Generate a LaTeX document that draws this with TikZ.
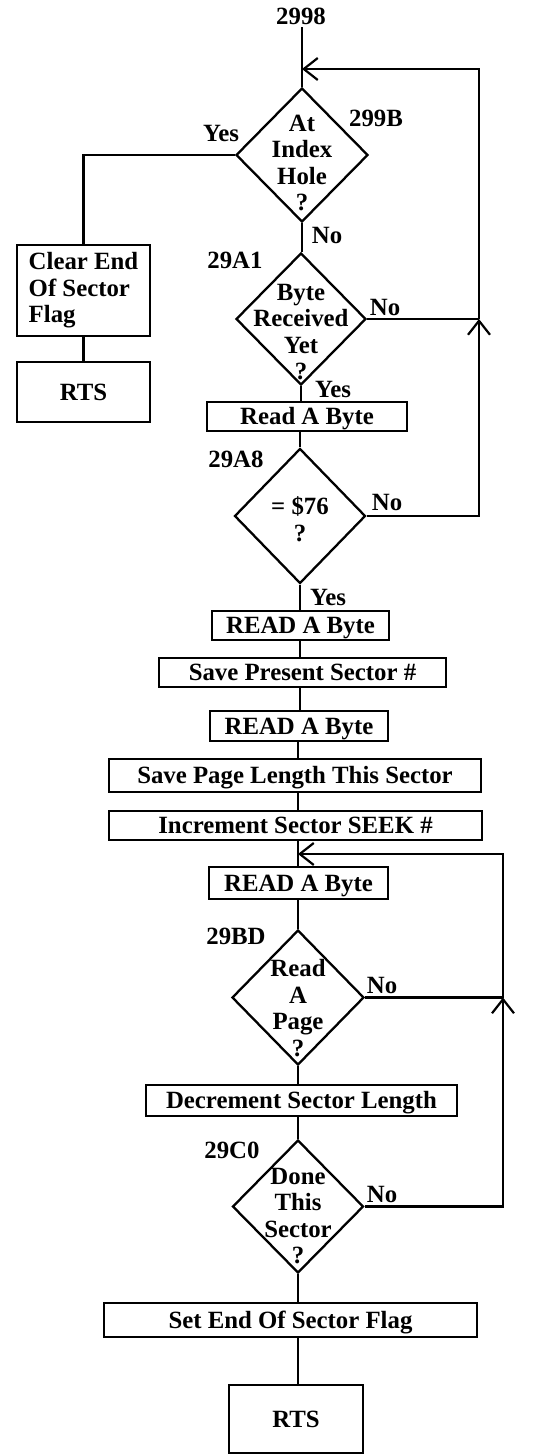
\documentclass[tikz,border=0pt]{standalone}
\usepackage{fontspec}
\setmainfont{Liberation Serif}
\usetikzlibrary{shapes.geometric,arrows.meta}
\newcommand{\fs}{\fontsize{24.8}{26.5}\selectfont\bfseries}
\tikzset{
  lbl/.style={font=\fs, inner sep=0pt, text height=16pt, text depth=0pt},
  box/.style={draw, line width=2pt, inner sep=0pt, font=\fs, text height=16pt, text depth=0pt},
  dia/.style={draw, shape=diamond, line width=2.3pt, inner sep=0pt},
  dtext/.style={font=\fs, align=center, inner sep=0pt},
  conn/.style={line width=2.2pt},
  barb/.style={line width=2.2pt, -{Straight Barb[length=14pt,width=22pt]}}
}
\begin{document}
\begin{tikzpicture}[x=1pt,y=-1pt]
\useasboundingbox (0,0) rectangle (537,1454);

% labels
\node[lbl] (l2998) at (301,16) {2998};
\node[lbl] (l299B) at (376,118) {299B};
\node[lbl] (y1) at (221,133) {Yes};
\node[lbl] (n1) at (327,235) {No};
\node[lbl] (l29A1) at (235,260) {29A1};
\node[lbl] (n2) at (385,307) {No};
\node[lbl] (y2) at (333,389) {Yes};
\node[lbl] (l29A8) at (236,459) {29A8};
\node[lbl] (n3) at (387,502) {No};
\node[lbl] (y3) at (328,597) {Yes};
\node[lbl] (l29BD) at (236,936) {29BD};
\node[lbl] (n4) at (382,985) {No};
\node[lbl] (l29C0) at (232,1150) {29C0};
\node[lbl] (n5) at (382,1194) {No};

% diamonds
\node[dia, minimum width=132pt, minimum height=134pt] (d1) at (302,155) {};
\node[dtext] (t1) at (302,163) {At\\Index\\Hole\\?};
\node[dia, minimum width=130pt, minimum height=132pt] (d2) at (301,319) {};
\node[dtext] (t2) at (301,332) {Byte\\Received\\Yet\\?};
\node[dia, minimum width=131pt, minimum height=135pt] (d3) at (300,516) {};
\node[dtext] (t3) at (300,519) {= \$76\\?};
\node[dia, minimum width=132pt, minimum height=135pt] (d4) at (298,997.5) {};
\node[dtext] (t4) at (298,1008) {Read\\A\\Page\\?};
\node[dia, minimum width=131pt, minimum height=133pt] (d5) at (298,1206.5) {};
\node[dtext] (t5) at (298,1216) {Done\\This\\Sector\\?};

% boxes
\node[draw, line width=2pt, inner sep=0pt, font=\fs, align=left, minimum width=133pt, minimum height=91pt] (clr) at (83.5,290.5) {Clear End\\Of Sector\\Flag};
\node[box, minimum width=133pt, minimum height=60pt] (rts1) at (83.5,392) {RTS};
\node[box, minimum width=200pt, minimum height=29pt] (rab) at (307,416.5) {Read A Byte};
\node[box, minimum width=177pt, minimum height=29pt] (rb1) at (300.5,625.5) {READ A Byte};
\node[box, minimum width=287pt, minimum height=29pt] (sps) at (302.5,672.5) {Save Present Sector \#};
\node[box, minimum width=178pt, minimum height=30pt] (rb2) at (299,726) {READ A Byte};
\node[box, minimum width=372pt, minimum height=33pt] (spl) at (295,775.5) {Save Page Length This Sector};
\node[box, minimum width=373pt, minimum height=29pt] (iss) at (295.5,825.5) {Increment Sector SEEK \#};
\node[box, minimum width=179pt, minimum height=32pt] (rb3) at (298.5,883) {READ A Byte};
\node[box, minimum width=311pt, minimum height=31pt] (dsl) at (301.5,1100.5) {Decrement Sector Length};
\node[box, minimum width=373pt, minimum height=34pt] (sef) at (290.5,1320) {Set End Of Sector Flag};
\node[box, minimum width=134pt, minimum height=68pt] (rts2) at (296,1419) {RTS};

% coordinates
\coordinate (j1) at (302,69);
\coordinate (c1) at (479,516);
\coordinate (m1) at (479,319);
\coordinate (c2) at (479,69);
\coordinate (j2) at (298,854);
\coordinate (c3) at (503,1206.5);
\coordinate (m2) at (503,997.5);
\coordinate (c4) at (503,854);

% connectors
\draw[conn] (d1.north |- l2998.south) ++(0,3) -- (d1.north);
\draw[conn] (d1.west) -| (clr.north);
\draw[conn] (clr.south) -- (rts1.north);
\draw[conn] (d1.south) -- (d1.south |- d2.north);
\draw[conn] (d2.south) -- (d2.south |- rab.north);
\draw[conn] (d3.north |- rab.south) -- (d3.north);
\draw[conn] (d2.east) -- (m1);
\draw[barb] (d3.east) -- (c1) -- (m1);
\draw[barb] (m1) -- (c2) -- (j1);
\draw[conn] (d3.south) -- (d3.south |- rb1.north);
\draw[conn] (d3.south |- rb1.south) -- (d3.south |- sps.north);
\draw[conn] (d3.south |- sps.south) -- (d3.south |- rb2.north);
\draw[conn] (d4.north |- rb2.south) -- (d4.north |- spl.north);
\draw[conn] (d4.north |- spl.south) -- (d4.north |- iss.north);
\draw[conn] (d4.north |- iss.south) -- (d4.north |- rb3.north);
\draw[conn] (d4.north |- rb3.south) -- (d4.north);
\draw[conn] (d4.south) -- (d4.south |- dsl.north);
\draw[conn] (d5.north |- dsl.south) -- (d5.north);
\draw[conn] (d4.east) -- (m2);
\draw[barb] (d5.east) -- (c3) -- (m2);
\draw[barb] (m2) -- (c4) -- (j2);
\draw[conn] (d5.south) -- (d5.south |- sef.north);
\draw[conn] (d5.south |- sef.south) -- (d5.south |- rts2.north);
\end{tikzpicture}
\end{document}
